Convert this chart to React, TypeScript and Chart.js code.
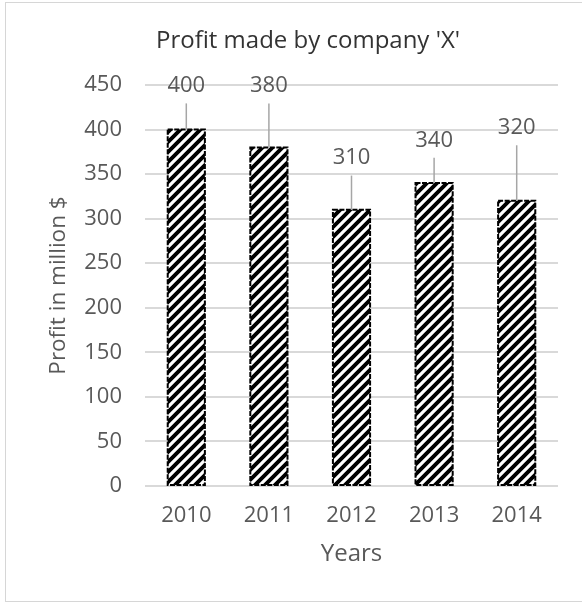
import React, { useEffect, useRef } from "react";
import { Chart, registerables } from "chart.js";

Chart.register(...registerables);

// ---- data ----
const years: string[] = ["2010", "2011", "2012", "2013", "2014"];
const profit: number[] = [400, 380, 310, 340, 320];
const yMin = 0;
const yMax = 450;
const yStep = 50;
const chartTitle = "Profit made by company 'X'";
const yTitle = "Profit in million $";
const xTitle = "Years";
// where each callout label sits, in value-axis units
const calloutAt: number[] = [449, 449, 368, 388, 402];

const FONT = "'Open Sans', sans-serif";
const GRAY = "#595959";

function makeHatch(): CanvasPattern | string {
  const c = document.createElement("canvas");
  c.width = 10;
  c.height = 10;
  const g = c.getContext("2d");
  if (!g) return "#000";
  g.fillStyle = "#fff";
  g.fillRect(0, 0, 10, 10);
  g.strokeStyle = "#000";
  g.lineWidth = 3.9;
  g.beginPath();
  g.moveTo(-5, 15);
  g.lineTo(15, -5);
  g.moveTo(-10, 10);
  g.lineTo(10, -10);
  g.moveTo(0, 20);
  g.lineTo(20, 0);
  g.stroke();
  const p = g.createPattern(c, "repeat");
  return p || "#000";
}

const decorPlugin = {
  id: "decor",
  afterDatasetsDraw(chart: any) {
    const ctx: CanvasRenderingContext2D = chart.ctx;
    const meta = chart.getDatasetMeta(0);
    const ys = chart.scales.y;
    ctx.save();
    meta.data.forEach((bar: any, i: number) => {
      const { x, y, base, width } = bar.getProps(["x", "y", "base", "width"], true);
      // dashed outline
      ctx.setLineDash([5, 1.5]);
      ctx.strokeStyle = "#000";
      ctx.lineWidth = 2;
      ctx.strokeRect(x - width / 2, y, width, base - y);
      ctx.setLineDash([]);
      // callout leader + label
      const ly = ys.getPixelForValue(calloutAt[i]);
      ctx.strokeStyle = "#a6a6a6";
      ctx.lineWidth = 1.5;
      ctx.beginPath();
      ctx.moveTo(x, ly + 17.5);
      ctx.lineTo(x, y);
      ctx.stroke();
      ctx.fillStyle = GRAY;
      ctx.font = `22px ${FONT}`;
      ctx.textAlign = "center";
      ctx.textBaseline = "middle";
      ctx.fillText(String(profit[i]), x, ly);
    });
    // chart title
    ctx.fillStyle = "#333333";
    ctx.font = `24px ${FONT}`;
    ctx.textAlign = "center";
    ctx.textBaseline = "middle";
    ctx.fillText(chartTitle, 308, 41);
    ctx.restore();
  },
};

export default function App() {
  const ref = useRef<HTMLCanvasElement | null>(null);
  useEffect(() => {
    if (!ref.current) return;
    const hatch = makeHatch();
    const chart = new Chart(ref.current, {
      type: "bar",
      data: {
        labels: years,
        datasets: [
          {
            data: profit,
            backgroundColor: hatch as any,
            borderWidth: 0,
            categoryPercentage: 1,
            barPercentage: 0.45,
          },
        ],
      },
      options: {
        responsive: false,
        animation: false,
        devicePixelRatio: 1,
        layout: { padding: { top: 85, right: 24, bottom: 0, left: 0 } },
        plugins: {
          legend: { display: false },
          title: { display: false },
          tooltip: { enabled: false },
        },
        scales: {
          x: {
            grid: { display: false, drawTicks: false },
            border: { display: false },
            ticks: { color: GRAY, font: { family: FONT, size: 22 }, padding: 17 },
            title: {
              display: true,
              text: xTitle,
              color: GRAY,
              font: { family: FONT, size: 24 },
              padding: { top: 0, bottom: 38 },
            },
            afterFit: (s: any) => {
              s.height = 121;
            },
          },
          y: {
            min: yMin,
            max: yMax,
            ticks: {
              stepSize: yStep,
              color: GRAY,
              font: { family: FONT, size: 22 },
              padding: 23,
            },
            grid: { color: "#d9d9d9", lineWidth: 2, drawTicks: false },
            border: { display: false },
            title: {
              display: true,
              text: yTitle,
              color: GRAY,
              font: { family: FONT, size: 22.5 },
              padding: { top: 45.5, bottom: 0 },
            },
            afterFit: (s: any) => {
              s.width = 145;
            },
          },
        },
      },
      plugins: [decorPlugin],
    });
    return () => chart.destroy();
  }, []);

  return (
    <div
      style={{
        position: "fixed",
        left: 0,
        top: 0,
        width: 582,
        height: 607,
        overflow: "hidden",
        background: "#fff",
      }}
    >
      <div
        style={{
          position: "absolute",
          left: 5,
          top: 2,
          width: 577,
          height: 600,
          borderTop: "1.5px solid #d6d6d6",
          borderLeft: "1.5px solid #d6d6d6",
          borderBottom: "1.5px solid #d6d6d6",
          borderRight: "none",
          boxSizing: "border-box",
        }}
      />
      <canvas
        ref={ref}
        width={582}
        height={607}
        style={{ position: "absolute", left: 0, top: 0, display: "block" }}
      />
    </div>
  );
}
